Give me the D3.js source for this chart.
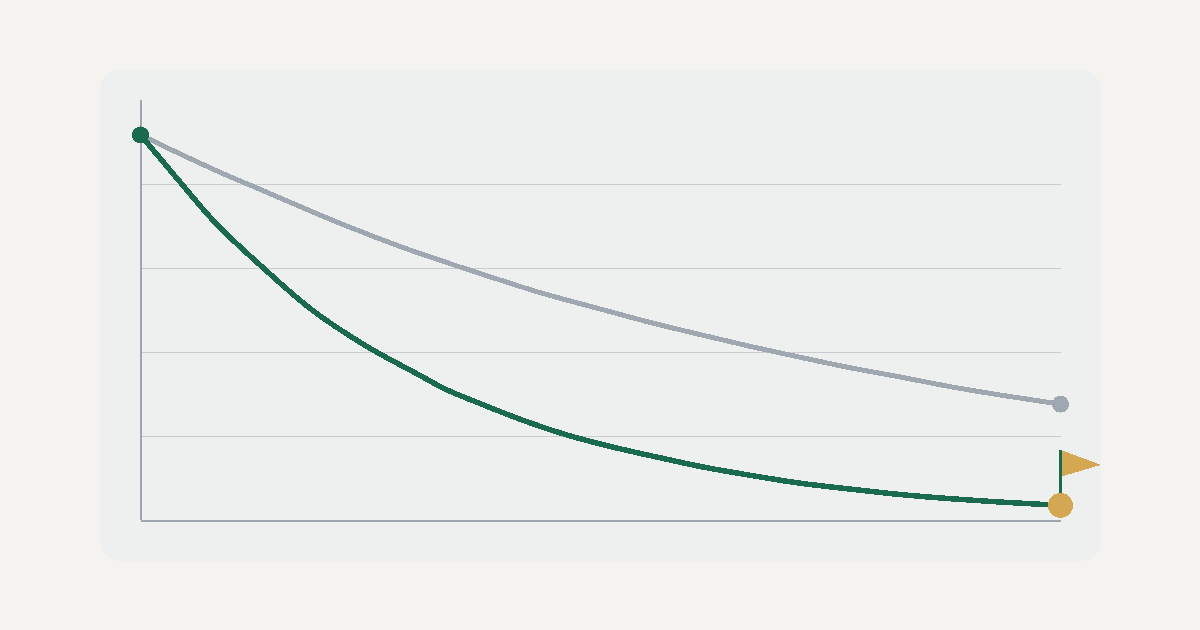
<!DOCTYPE html>
<html>
<head>
<meta charset="utf-8">
<script src="https://cdn.jsdelivr.net/npm/d3@7"></script>
<style>
  html, body { margin: 0; padding: 0; background: #f4f3ef; }
  svg { display: block; }
  svg * { shape-rendering: crispEdges; }
</style>
</head>
<body>
<svg id="chart" width="1200" height="630"></svg>
<script>
var gridTicks = [20, 40, 60, 80]

var greenX = [0, 1.8, 3.6, 6.1, 8.45, 11.3, 13.95, 15.1, 16.95, 19.1, 21.3, 23.6, 26.3, 27.95, 30.45, 32.95, 35.45, 37.95, 40.45, 42.95, 46]
var greenY = [91.8, 81.6, 71.6, 60.3, 50.6, 41.5, 34.6, 31.6, 27.9, 23.9, 20.4, 17.5, 14.6, 12.9, 10.8, 8.9, 7.5, 6.2, 5.2, 4.4, 3.6]

var grayX = [0, 4.6, 5.8, 9.6, 12.95, 15.95, 17.95, 19.95, 22.95, 25.45, 27.95, 30.45, 32.95, 35.45, 37.95, 40.45, 42.95, 46]
var grayY = [91.8, 81.6, 79.2, 71.5, 65.3, 60.4, 57.3, 54.3, 50.4, 47.2, 44.3, 41.5, 38.9, 36.4, 34.2, 31.9, 29.9, 27.7]

var svg = d3.select('#chart')

var x = d3.scaleLinear().domain([0, 46]).range([140.5, 1060.5])
var y = d3.scaleLinear().domain([0, 100]).range([520, 100])

// panel
svg.append('rect')
  .attr('x', 100).attr('y', 70)
  .attr('width', 1001).attr('height', 491)
  .attr('rx', 20)
  .attr('fill', '#eef0ef')

// gridlines
var grid = svg.append('g')
  .attr('transform', 'translate(141,0.5)')
  .call(d3.axisLeft(y).tickValues(gridTicks).tickSize(-920).tickFormat('').offset(0))
grid.select('.domain').remove()
grid.selectAll('line').attr('stroke', '#c9cdd3').attr('stroke-width', 1)

// axes
var yAxis = svg.append('g')
  .attr('transform', 'translate(141,0)')
  .call(d3.axisLeft(y).tickValues([]).tickSize(0).offset(0))
var xAxis = svg.append('g')
  .attr('transform', 'translate(0,520.5)')
  .call(d3.axisBottom(x).tickValues([]).tickSize(0).offset(0.5))
svg.selectAll('.domain').attr('stroke', '#a0a6b0').attr('stroke-width', 2)

var marks = svg.append('g').attr('transform', 'translate(0,0.5)')

var line = d3.line()
  .x(function (d) { return x(d[0]) })
  .y(function (d) { return y(d[1]) })
  .curve(d3.curveMonotoneX)

marks.append('path')
  .attr('d', line(d3.zip(grayX, grayY)))
  .attr('fill', 'none')
  .attr('stroke', '#9fa8b0')
  .attr('stroke-width', 5)

marks.append('path')
  .attr('d', line(d3.zip(greenX, greenY)))
  .attr('fill', 'none')
  .attr('stroke', '#1a6b4e')
  .attr('stroke-width', 5.5)

var lastX = x(greenX[greenX.length - 1])
var lastGreen = y(greenY[greenY.length - 1])

// start and end dots
marks.append('circle')
  .attr('cx', x(greenX[0])).attr('cy', y(greenY[0]))
  .attr('r', 8.5).attr('fill', '#1a6b4e')
marks.append('circle')
  .attr('cx', x(grayX[grayX.length - 1])).attr('cy', y(grayY[grayY.length - 1]))
  .attr('r', 8.5).attr('fill', '#9fa8b0')

// flag on the last point
marks.append('line')
  .attr('x1', lastX).attr('x2', lastX)
  .attr('y1', lastGreen).attr('y2', lastGreen - 55.5)
  .attr('stroke', '#1a6b4e').attr('stroke-width', 3)
marks.append('polygon')
  .attr('points', [
    [lastX + 1.5, lastGreen - 55],
    [lastX + 40.5, lastGreen - 40.5],
    [lastX + 1.5, lastGreen - 29]
  ].join(' '))
  .attr('fill', '#d4a853')
marks.append('circle')
  .attr('cx', lastX).attr('cy', lastGreen)
  .attr('r', 12.5).attr('fill', '#d4a853')
</script>
</body>
</html>
